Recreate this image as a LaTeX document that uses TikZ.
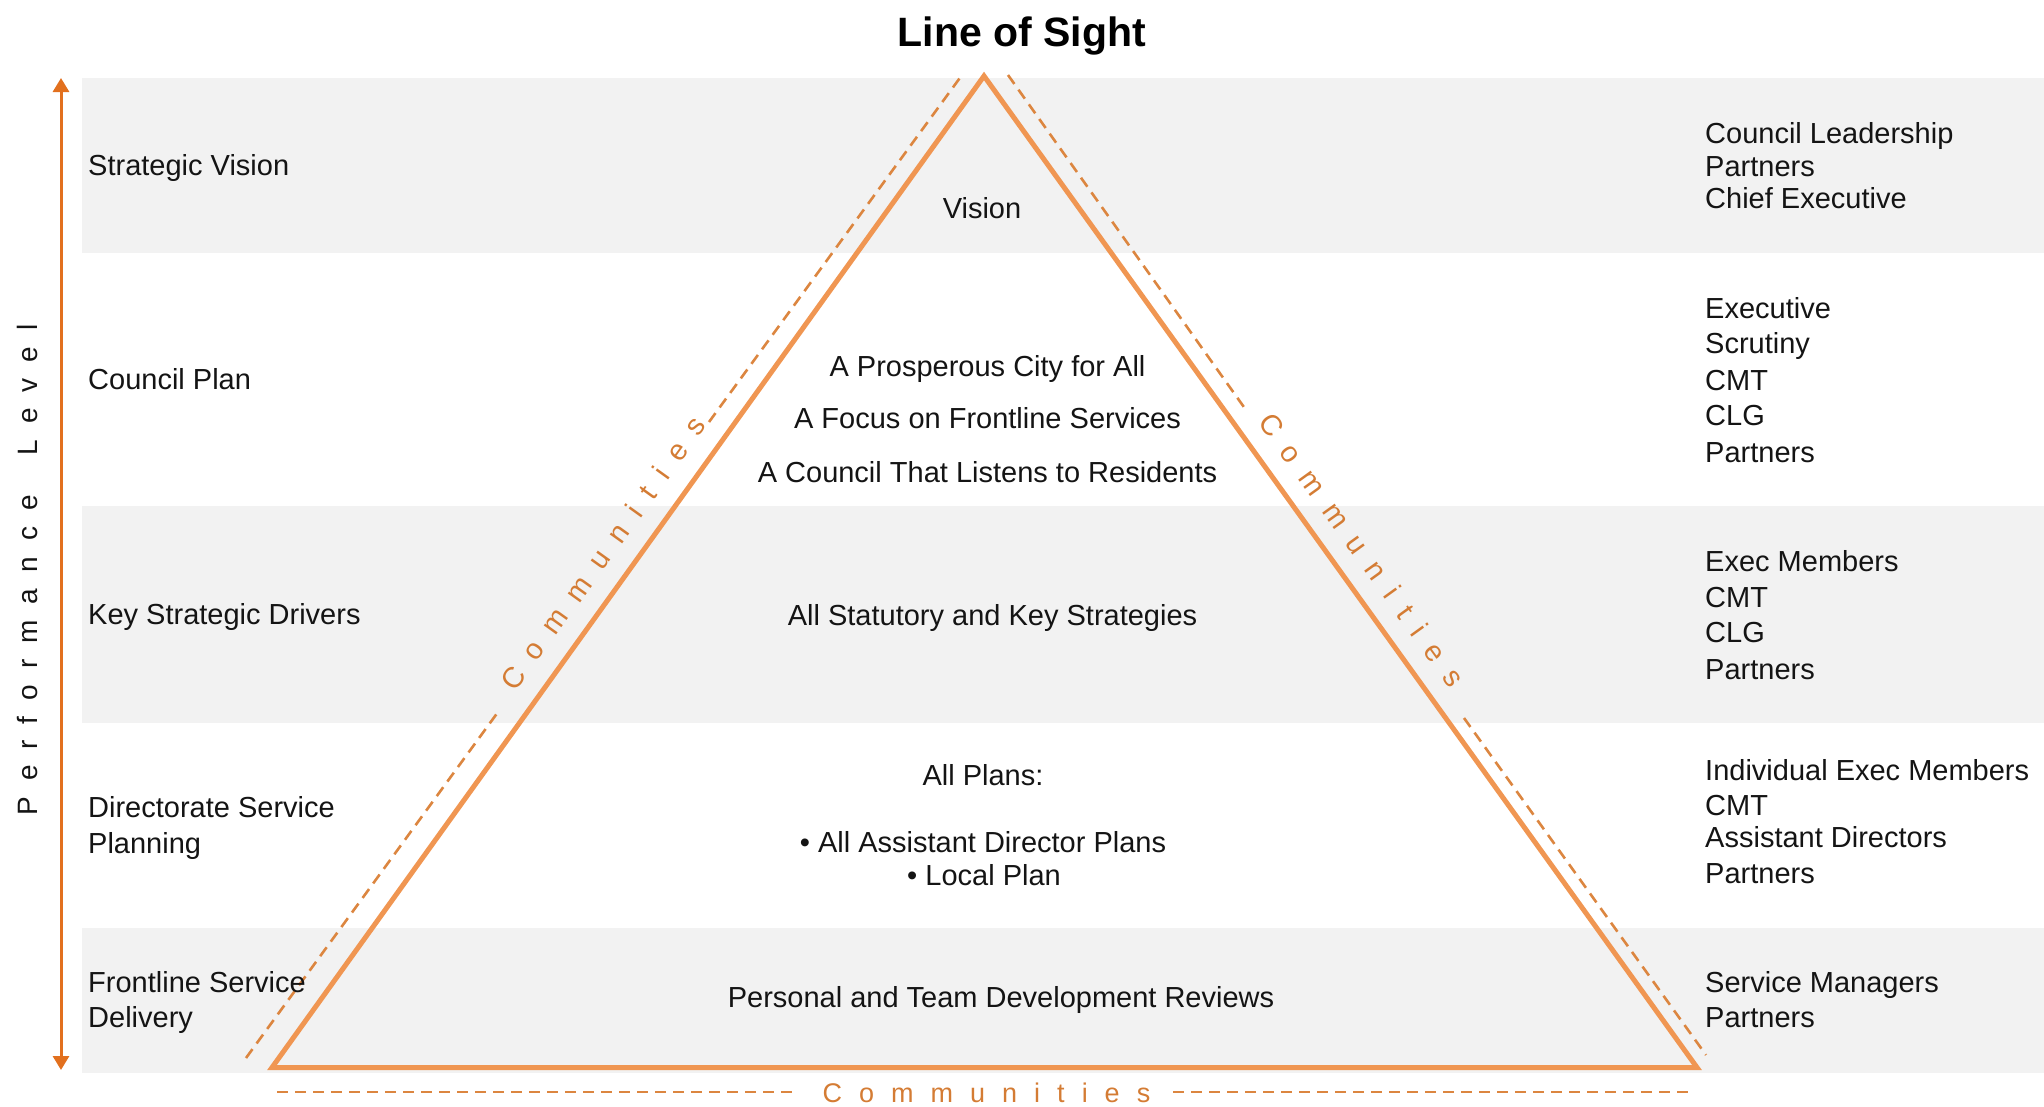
\documentclass[tikz,border=0pt]{standalone}
\usepackage{fontspec}
\setmainfont{Liberation Sans}
\usetikzlibrary{arrows.meta}
\definecolor{bandgray}{RGB}{242,242,242}
\definecolor{arrowc}{RGB}{226,112,30}
\definecolor{trianglec}{RGB}{240,150,82}
\definecolor{dashc}{RGB}{220,134,64}
\definecolor{commc}{RGB}{212,124,52}
\definecolor{txtc}{RGB}{20,20,20}
\newcommand\commtxt{C\kern17pt o\kern17pt m\kern17pt m\kern17pt u\kern17pt n\kern17pt i\kern17pt t\kern17pt i\kern17pt e\kern17pt s}
\newcommand\commside{C\kern16pt o\kern16pt m\kern16pt m\kern16pt u\kern16pt n\kern16pt i\kern16pt t\kern16pt i\kern16pt e\kern16pt s}
\newcommand\perftxt{P\kern16pt e\kern16pt r\kern16pt f\kern16pt o\kern16pt r\kern16pt m\kern16pt a\kern16pt n\kern16pt c\kern16pt e\kern40pt L\kern16pt e\kern16pt v\kern16pt e\kern16pt l}
\begin{document}
\begin{tikzpicture}[x=1pt,y=-1pt,
  lbl/.style={anchor=base west, inner sep=0pt, text=txtc, font=\fontsize{29}{35}\selectfont},
  ctr/.style={anchor=base, inner sep=0pt, text=txtc, font=\fontsize{29}{35}\selectfont},
  comm/.style={inner sep=0pt, text=commc, font=\fontsize{27}{32}\selectfont},
  commsd/.style={inner sep=0pt, text=commc, font=\fontsize{29}{34}\selectfont},
  dashline/.style={draw=dashc, line width=2.6pt, dash pattern=on 11pt off 7pt},
  tri/.style={draw=trianglec, line width=5pt, line join=miter}]
\useasboundingbox (0,0) rectangle (2044,1106);
% bands
\fill[bandgray] (82,78) rectangle (2044,253);
\fill[bandgray] (82,506) rectangle (2044,723);
\fill[bandgray] (82,928) rectangle (2044,1073);
% title
\node[anchor=base, inner sep=0pt, text=black, font=\fontsize{41}{48}\selectfont\bfseries] (title) at (1022,46) {Line of Sight};
% performance arrow
\coordinate (atop) at (61,78);
\coordinate (abot) at (61,1070);
\draw[arrowc, line width=3pt, {Triangle[width=16pt,length=14pt]}-{Triangle[width=16pt,length=14pt]}] (atop) -- (abot);
\node[anchor=base, inner sep=0pt, rotate=90, text=txtc, font=\fontsize{28}{32}\selectfont] (perf) at (37,570) {\perftxt};
% triangle
\coordinate (apex) at (984,76);
\coordinate (bl) at (272,1067.5);
\coordinate (br) at (1697,1067.5);
\draw[tri] (bl) -- (apex) -- (br) -- cycle;
% dashed outlines
\coordinate (ld1) at (246,1058);
\coordinate (ld2) at (498,712);
\coordinate (ld3) at (709,422);
\coordinate (ld4) at (962,75);
\draw[dashline] (ld1) -- (ld2);
\draw[dashline] (ld3) -- (ld4);
\coordinate (rd1) at (1008,75);
\coordinate (rd2) at (1246,410);
\coordinate (rd3) at (1464,718);
\coordinate (rd4) at (1706,1055);
\draw[dashline] (rd1) -- (rd2);
\draw[dashline] (rd3) -- (rd4);
\coordinate (bd1) at (277,1092);
\coordinate (bd2) at (798,1092);
\coordinate (bd3) at (1173,1092);
\coordinate (bd4) at (1694,1092);
\draw[dashline] (bd1) -- (bd2);
\draw[dashline] (bd3) -- (bd4);
% communities labels
\node[commsd, rotate=54.3] (commL) at (603,553) {\commside};
\node[commsd, rotate=-54.2] (commR) at (1362,550) {\commside};
\node[comm, anchor=base] (commB) at (986.5,1102) {\commtxt};
% left labels
\node[lbl] (l1) at (88,175) {Strategic Vision};
\node[lbl] (l2) at (88,389) {Council Plan};
\node[lbl] (l3) at (88,624) {Key Strategic Drivers};
\node[lbl] (l4a) at (88,817) {Directorate Service};
\node[lbl] (l4b) at (88,853) {Planning};
\node[lbl] (l5a) at (88,992) {Frontline Service};
\node[lbl] (l5b) at (88,1027) {Delivery};
% centre labels
\node[ctr] (c1) at (982,218) {Vision};
\node[ctr] (c2a) at (987.5,376) {A Prosperous City for All};
\node[ctr] (c2b) at (987.5,428) {A Focus on Frontline Services};
\node[ctr] (c2c) at (987.5,482) {A Council That Listens to Residents};
\node[ctr] (c3) at (992.5,625) {All Statutory and Key Strategies};
\node[ctr] (c4a) at (983,785) {All Plans:};
\node[ctr] (c4b) at (983,852) {\textbullet\ All Assistant Director Plans};
\node[ctr] (c4c) at (984,885) {\textbullet\ Local Plan};
\node[ctr] (c5) at (1001,1007) {Personal and Team Development Reviews};
% right labels
\node[lbl] (r1a) at (1705,143) {Council Leadership};
\node[lbl] (r1b) at (1705,176) {Partners};
\node[lbl] (r1c) at (1705,208) {Chief Executive};
\node[lbl] (r2a) at (1705,318) {Executive};
\node[lbl] (r2b) at (1705,353) {Scrutiny};
\node[lbl] (r2c) at (1705,390) {CMT};
\node[lbl] (r2d) at (1705,425) {CLG};
\node[lbl] (r2e) at (1705,462) {Partners};
\node[lbl] (r3a) at (1705,571) {Exec Members};
\node[lbl] (r3b) at (1705,607) {CMT};
\node[lbl] (r3c) at (1705,642) {CLG};
\node[lbl] (r3d) at (1705,679) {Partners};
\node[lbl] (r4a) at (1705,780) {Individual Exec Members};
\node[lbl] (r4b) at (1705,815) {CMT};
\node[lbl] (r4c) at (1705,847) {Assistant Directors};
\node[lbl] (r4d) at (1705,883) {Partners};
\node[lbl] (r5a) at (1705,992) {Service Managers};
\node[lbl] (r5b) at (1705,1027) {Partners};
\end{tikzpicture}
\end{document}
